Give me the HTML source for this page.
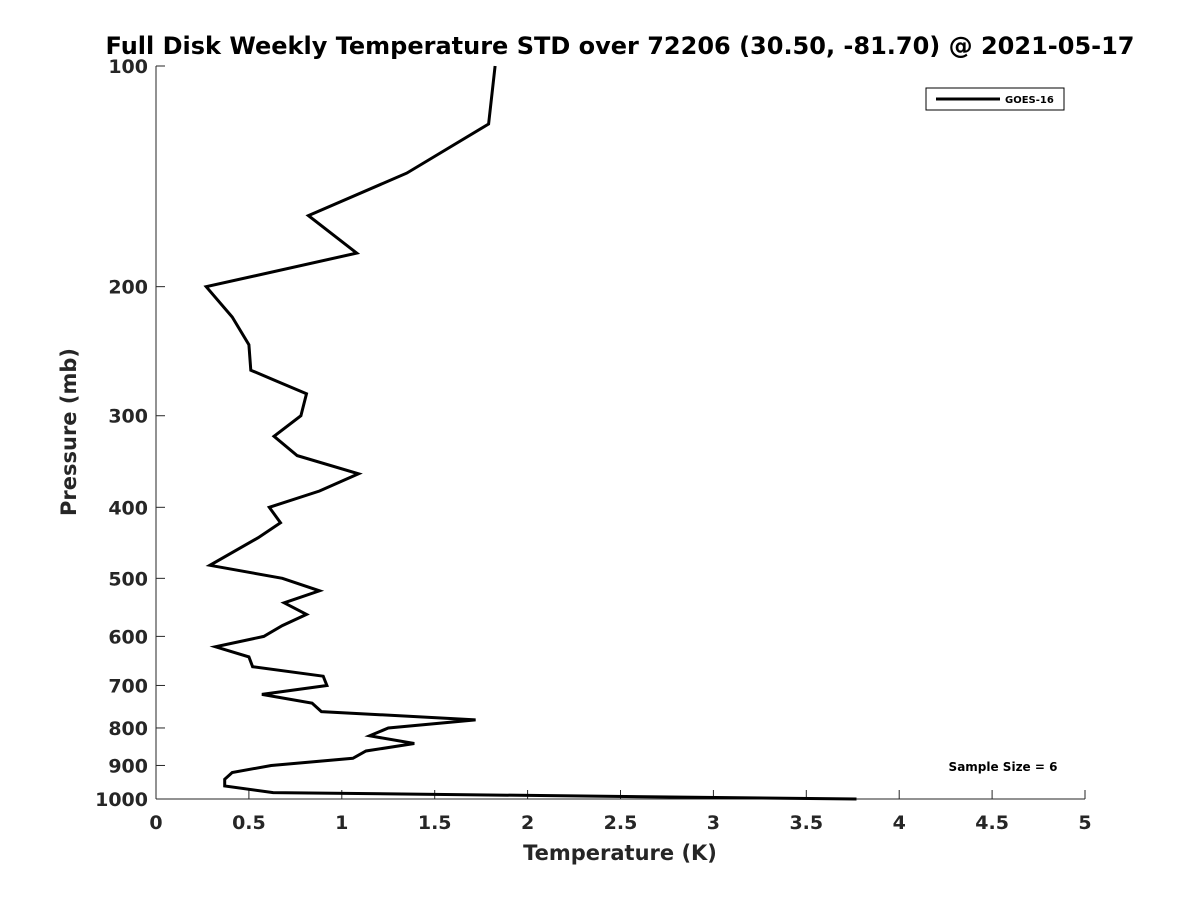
<!DOCTYPE html>
<html><head><meta charset="utf-8"><style>body{margin:0;background:#fff}svg text{font-family:"DejaVu Sans","Liberation Sans",sans-serif;font-weight:bold;fill:#262626}</style></head>
<body>
<svg id="chart" width="1200" height="900" xmlns="http://www.w3.org/2000/svg">
<rect width="1200" height="900" fill="#fff"/>
<text x="620" y="54" text-anchor="middle" font-size="24" style="fill:#000">Full Disk Weekly Temperature STD over 72206 (30.50, -81.70) @ 2021-05-17</text>
<g id="axes"></g>
<text x="620" y="860" text-anchor="middle" font-size="21">Temperature (K)</text>
<text transform="translate(76,432) rotate(-90)" text-anchor="middle" font-size="21">Pressure (mb)</text>
<g>
<rect x="926" y="88" width="138" height="22" fill="#fff" stroke="#000" stroke-width="1"/>
<line x1="936" y1="99" x2="1000" y2="99" stroke="#000" stroke-width="3"/>
<text x="1005" y="103" font-size="10" style="fill:#000">GOES-16</text>
</g>
<text x="1003" y="771" text-anchor="middle" font-size="12" style="fill:#000">Sample Size = 6</text>
</svg>
<script>
const pressures=[100,120,140,160,180,200,220,240,260,280,300,320,340,360,380,400,420,440,480,500,520,540,560,580,600,620,640,660,680,700,720,740,760,780,800,820,840,860,880,900,920,940,960,980,1000];
const tempStd=[1.825,1.79,1.35,0.82,1.08,0.27,0.41,0.50,0.51,0.81,0.78,0.635,0.76,1.09,0.88,0.61,0.67,0.55,0.29,0.68,0.88,0.69,0.81,0.68,0.58,0.32,0.50,0.52,0.90,0.92,0.57,0.84,0.89,1.72,1.25,1.15,1.39,1.13,1.06,0.62,0.41,0.37,0.37,0.63,3.77];
const xTicks=[0,0.5,1,1.5,2,2.5,3,3.5,4,4.5,5];
const yTicks=[100,200,300,400,500,600,700,800,900,1000];
const X0=156,X1=1085,Y0=66,Y1=799;
const xs=v=>X0+(v-0)/5*(X1-X0);
const ys=p=>Y0+(Math.log10(p)-2)*(Y1-Y0);
const NS="http://www.w3.org/2000/svg";
const svg=document.getElementById('axes');
function mk(t,a){const e=document.createElementNS(NS,t);for(const k in a)e.setAttribute(k,a[k]);svg.appendChild(e);return e;}
let l=mk('line',{x1:X0,y1:Y0,x2:X0,y2:Y1,stroke:'#262626','stroke-width':1});


l=mk('line',{x1:X0,y1:Y1,x2:X1,y2:Y1,stroke:'#262626','stroke-width':1});


xTicks.forEach(v=>{
 const x=xs(v);
 const t=mk('line',{x1:x,y1:Y1,x2:x,y2:Y1-9,stroke:'#262626'});
 
 
 const tx=mk('text',{x:x,y:Y1+30,'text-anchor':'middle','font-size':19});
 tx.textContent=String(v);
 
 
});
yTicks.forEach(p=>{
 const y=ys(p);
 const t=mk('line',{x1:X0,y1:y,x2:X0+9,y2:y,stroke:'#262626'});
 
 
 const tx=mk('text',{x:X0-8,y:y+7,'text-anchor':'end','font-size':19});
 tx.textContent=String(p);
 
 
});
const pts=pressures.map((p,i)=>xs(tempStd[i]).toFixed(1)+','+ys(p).toFixed(1)).join(' ');
const line=mk('polyline',{points:pts,fill:'none',stroke:'#000','stroke-width':3,'stroke-linejoin':'miter'});


</script>
</body></html>
